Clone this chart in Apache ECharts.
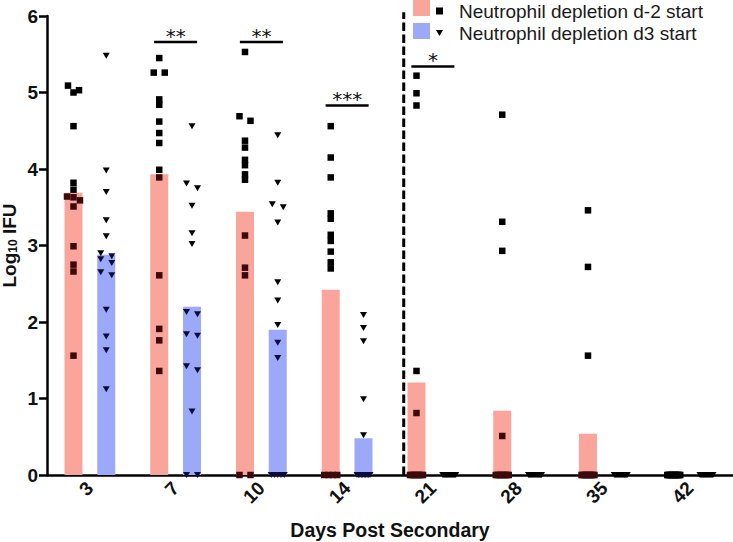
<!DOCTYPE html>
<html>
<head>
<meta charset="utf-8">
<script src="https://cdn.jsdelivr.net/npm/echarts@6/dist/echarts.min.js"></script>
<style>
html,body{margin:0;padding:0;background:#fff;}
#chart{width:733px;height:542px;}
</style>
</head>
<body>
<div id="chart"></div>
<script>
// ---------------- DATA ----------------
const days = ['3', '7', '10', '14', '21', '28', '35', '42'];
const seriesNames = ['Neutrophil depletion d-2 start', 'Neutrophil depletion d3 start'];
const yTickValues = [0, 1, 2, 3, 4, 5, 6];

// bar heights (group means), Log10 IFU
const meanEarly = [3.69, 3.93, 3.44, 2.42, 1.21, 0.84, 0.54, 0];
const meanLate  = [2.88, 2.20, 1.90, 0.48, 0, 0, 0, 0];

// individual animals, depletion started d-2 (squares)
const earlyDay3  = [5.09, 5.03, 5.00, 4.56, 3.82, 3.73, 3.64, 3.63, 3.59, 3.51, 2.99, 2.75, 2.66, 1.56];
const earlyDay7  = [5.45, 5.26, 5.26, 4.91, 4.84, 4.62, 4.47, 4.34, 3.99, 3.89, 2.61, 1.91, 1.76, 1.36];
const earlyDay10 = [5.53, 4.69, 4.63, 4.37, 4.28, 4.12, 4.05, 3.93, 3.86, 3.13, 2.71, 2.61, 0, 0];
const earlyDay14 = [4.56, 4.15, 3.89, 3.42, 3.35, 3.14, 3.06, 2.92, 2.78, 2.70, 0, 0, 0, 0];
const earlyDay21 = [5.22, 4.99, 4.83, 1.36, 0.81, 0, 0, 0, 0, 0, 0, 0, 0, 0];
const earlyDay28 = [4.71, 3.31, 2.93, 0.51, 0, 0, 0, 0, 0, 0, 0, 0, 0, 0];
const earlyDay35 = [3.46, 2.72, 1.56, 0, 0, 0, 0, 0, 0, 0, 0, 0, 0, 0];
const earlyDay42 = [0, 0, 0, 0, 0, 0, 0, 0, 0, 0, 0, 0, 0, 0];

// individual animals, depletion started d3 (triangles)
const lateDay3  = [5.48, 3.98, 3.70, 3.33, 3.12, 2.90, 2.86, 2.82, 2.77, 2.65, 2.61, 2.16, 1.81, 1.63, 1.12];
const lateDay7  = [4.56, 3.81, 3.75, 3.52, 3.16, 3.02, 2.13, 2.10, 1.84, 1.82, 1.42, 1.37, 0.83, 0, 0];
const lateDay10 = [4.44, 3.82, 3.54, 3.50, 3.30, 2.52, 2.28, 1.96, 1.73, 1.53, 0, 0, 0, 0, 0];
const lateDay14 = [2.09, 1.92, 1.75, 0.99, 0.52, 0, 0, 0, 0, 0, 0, 0, 0, 0, 0];
const lateDay21 = [0, 0, 0, 0, 0, 0, 0, 0, 0, 0, 0, 0, 0, 0, 0];
const lateDay28 = [0, 0, 0, 0, 0, 0, 0, 0, 0, 0, 0, 0, 0, 0, 0];
const lateDay35 = [0, 0, 0, 0, 0, 0, 0, 0, 0, 0, 0, 0, 0, 0, 0];
const lateDay42 = [0, 0, 0, 0, 0, 0, 0, 0, 0, 0, 0, 0, 0, 0, 0];

// significance brackets
const sigDays   = ['7', '10', '14', '21'];
const sigMarks  = ['**', '**', '***', '*'];
const sigLevels = [5.66, 5.66, 4.83, 5.34];

// ---------------- LAYOUT / STYLE ----------------
const W = 733, H = 542;
const GRID = {left: 47, right: 0, top: 16, bottom: 67};
const DIVIDER_AT = 3.66;      // dashed separator, in category-index units
const DIVIDER_TOP = 6.05;
const BAR_W = 18, BAR_GAP = '82%';
const SIDE_PX = (BAR_W * 2 + BAR_W * 0.82) / 2 - BAR_W / 2;  // centre offset of each bar
const ROW_TOL = 5, ROW_STEP = 11, ROW_SPAN = 13;
const PINK = '#F9A59B', BLUE = '#9BA9F8';
const DARK_EARLY = '#3c0a0a', DARK_LATE = '#0c0c3c';
const FONT = 'Liberation Sans, Arial, sans-serif';
const TRI_DOWN = 'path://M0,0L20,0L10,17Z';

const chart = echarts.init(document.getElementById('chart'), null, {renderer: 'svg', width: W, height: H});
const pxPerCat = (W - GRID.left - GRID.right) / days.length;
const pxPerUnit = (H - GRID.top - GRID.bottom) / (yTickValues[yTickValues.length - 1] - yTickValues[0]);

const earlyGroups = [earlyDay3, earlyDay7, earlyDay10, earlyDay14, earlyDay21, earlyDay28, earlyDay35, earlyDay42];
const lateGroups  = [lateDay3, lateDay7, lateDay10, lateDay14, lateDay21, lateDay28, lateDay35, lateDay42];

// column-scatter layout: points at similar heights are spread horizontally
function spreadOffsets(values) {
  const order = values.map((v, i) => i).sort((a, b) => values[b] - values[a]);
  const offs = new Array(values.length).fill(0);
  let row = [], rowTop = null;
  const flush = () => {
    const k = row.length;
    if (!k) return;
    const step = k > 1 ? Math.min(ROW_STEP, ROW_SPAN / (k - 1)) : 0;
    row.forEach((id, j) => { offs[id] = (j - (k - 1) / 2) * step; });
    row = [];
  };
  order.forEach(id => {
    const v = values[id];
    if (row.length && (rowTop - v) * pxPerUnit > ROW_TOL) flush();
    if (!row.length) rowTop = v;
    row.push(id);
  });
  flush();
  return offs;
}

function buildPoints(groups, means, side, dark) {
  const out = [];
  groups.forEach((vals, i) => {
    const offs = spreadOffsets(vals);
    vals.forEach((v, j) => {
      const inside = means[i] > 0 && v <= means[i];
      out.push({
        value: [i + (side * SIDE_PX + offs[j]) / pxPerCat, v],
        itemStyle: inside ? {color: dark} : undefined
      });
    });
  });
  return out;
}

const earlyPts = buildPoints(earlyGroups, meanEarly, -1, DARK_EARLY);
const latePts = buildPoints(lateGroups, meanLate, 1, DARK_LATE);

const SIG_HALF = 21.5 / pxPerCat;

const option = {
  animation: false,
  backgroundColor: '#fff',
  textStyle: {fontFamily: FONT},
  grid: {left: GRID.left, right: GRID.right, top: GRID.top, bottom: GRID.bottom,
         containLabel: false, outerBoundsMode: 'none'},
  legend: [
    {
      data: seriesNames,
      orient: 'vertical', left: 413, top: 0, padding: 0,
      itemWidth: 17, itemHeight: 16, itemGap: 7,
      icon: 'rect', selectedMode: false,
      formatter: () => '',
      textStyle: {fontSize: 1}
    },
    {
      data: seriesNames.map(n => n + ' values'),
      orient: 'vertical', left: 436, top: 0, padding: 0,
      itemWidth: 7, itemHeight: 7, itemGap: 0,
      selectedMode: false,
      formatter: n => n.replace(' values', ''),
      textStyle: {fontSize: 19, fontFamily: FONT, color: '#1a1a1a', lineHeight: 22, padding: [0, 0, 0, 11]}
    }
  ],
  xAxis: [
    {
      type: 'category', data: days, boundaryGap: true,
      name: 'Days Post Secondary', nameLocation: 'middle', nameGap: 45, nameMoveOverlap: false,
      nameTextStyle: {fontSize: 19.5, fontWeight: 'bold', color: '#111', fontFamily: FONT},
      axisLine: {onZero: false, lineStyle: {color: '#000', width: 2.5}},
      axisTick: {alignWithLabel: true, length: 6, lineStyle: {color: '#000', width: 2.5}},
      axisLabel: {rotate: 45, fontSize: 19, fontWeight: 'bold', color: '#111', margin: 10, fontFamily: FONT},
      splitLine: {show: false}
    },
    {type: 'value', min: -0.5, max: days.length - 0.5, show: false, axisLine: {onZero: false}}
  ],
  yAxis: {
    type: 'value', min: yTickValues[0], max: yTickValues[yTickValues.length - 1], interval: 1,
    name: 'Log{sub|10} IFU', nameLocation: 'middle', nameGap: 28, nameMoveOverlap: false,
    nameTextStyle: {
      fontSize: 19, fontWeight: 'bold', color: '#111', fontFamily: FONT, lineHeight: 20,
      rich: {sub: {fontSize: 12, fontWeight: 'bold', color: '#111', fontFamily: FONT, lineHeight: 12, verticalAlign: 'bottom'}}
    },
    axisLine: {show: true, onZero: false, lineStyle: {color: '#000', width: 2.5}},
    axisTick: {show: true, length: 8, lineStyle: {color: '#000', width: 2.5}},
    axisLabel: {fontSize: 19, fontWeight: 'bold', color: '#111', margin: 9, fontFamily: FONT},
    splitLine: {show: false}
  },
  series: [
    {
      name: seriesNames[0], type: 'bar', data: meanEarly,
      barWidth: BAR_W, barGap: BAR_GAP, itemStyle: {color: PINK}, z: 1
    },
    {
      name: seriesNames[1], type: 'bar', data: meanLate,
      barWidth: BAR_W, barGap: BAR_GAP, itemStyle: {color: BLUE}, z: 1
    },
    {
      type: 'custom', xAxisIndex: 1, yAxisIndex: 0, clip: false, z: 3, silent: true,
      data: [[DIVIDER_AT, 0, DIVIDER_TOP]],
      renderItem: (params, api) => {
        const p0 = api.coord([api.value(0), api.value(1)]);
        const p1 = api.coord([api.value(0), api.value(2)]);
        return {type: 'line', shape: {x1: p0[0], y1: p0[1], x2: p1[0], y2: p1[1]},
          style: {stroke: '#000', lineWidth: 3, lineDash: [8.5, 3.5]}};
      }
    },
    {
      name: seriesNames[0] + ' values', type: 'scatter', xAxisIndex: 1, yAxisIndex: 0,
      symbol: 'rect', symbolSize: 6.5, itemStyle: {color: '#000', opacity: 1}, z: 4,
      data: earlyPts
    },
    {
      name: seriesNames[1] + ' values', type: 'scatter', xAxisIndex: 1, yAxisIndex: 0,
      symbol: TRI_DOWN, symbolSize: [7, 6], itemStyle: {color: '#000', opacity: 1}, z: 4,
      data: latePts
    },
    {
      type: 'custom', xAxisIndex: 1, yAxisIndex: 0, clip: false, z: 5, silent: true,
      data: sigDays.map((d, j) => [days.indexOf(d), sigLevels[j], j]),
      renderItem: (params, api) => {
        const i = api.value(0), y = api.value(1), j = api.value(2);
        const a = api.coord([i - SIG_HALF, y]);
        const b = api.coord([i + SIG_HALF, y]);
        return {
          type: 'group',
          children: [
            {type: 'line', shape: {x1: a[0], y1: a[1], x2: b[0], y2: b[1]}, style: {stroke: '#000', lineWidth: 2.5}},
            {type: 'text', style: {text: sigMarks[j], x: (a[0] + b[0]) / 2, y: a[1] - 6.5,
              align: 'center', verticalAlign: 'middle', fill: '#111',
              font: '20px "DejaVu Sans", sans-serif'}}
          ]
        };
      }
    }
  ]
};
chart.setOption(option);
</script>
</body>
</html>
